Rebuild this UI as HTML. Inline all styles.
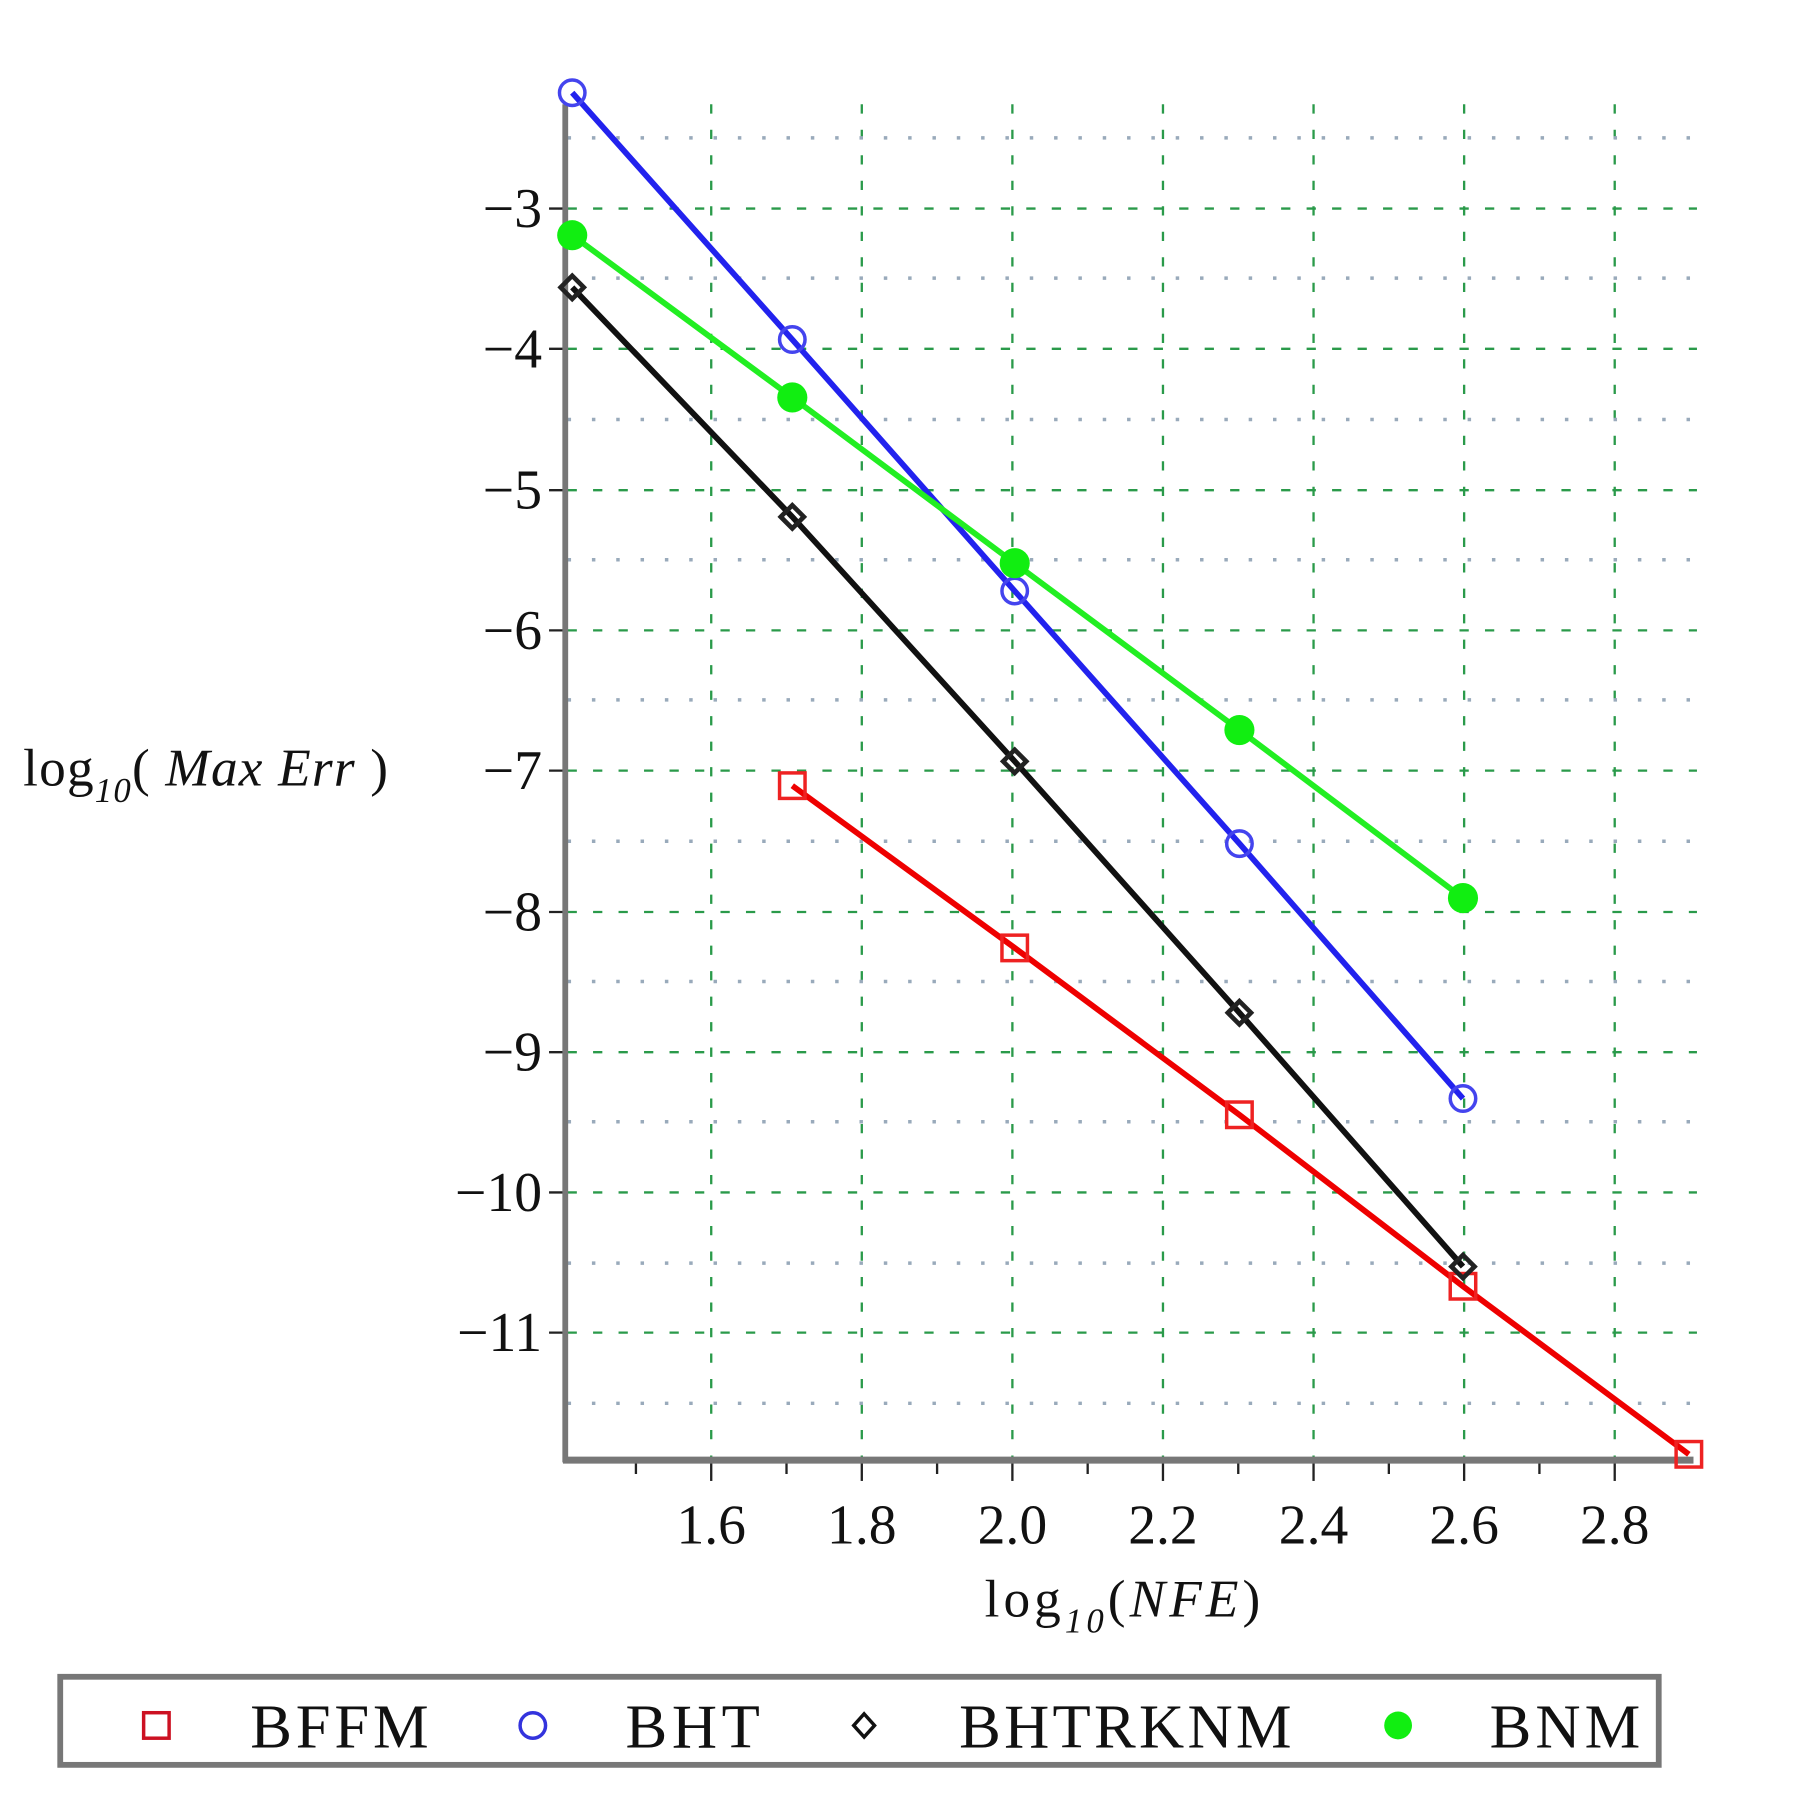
<!DOCTYPE html>
<html><head><meta charset="utf-8"><style>html,body{margin:0;padding:0;background:#fff}svg{display:block}</style></head><body>
<svg width="1807" height="1817" viewBox="0 0 1560 1568" preserveAspectRatio="none" xmlns="http://www.w3.org/2000/svg" font-family="Liberation Serif, serif">
<g stroke="#2a9a4a" stroke-width="2" stroke-dasharray="8,14">
<line x1="614" y1="90" x2="614" y2="1258"/><line x1="744" y1="90" x2="744" y2="1258"/><line x1="874" y1="90" x2="874" y2="1258"/><line x1="1004" y1="90" x2="1004" y2="1258"/><line x1="1134" y1="90" x2="1134" y2="1258"/><line x1="1264" y1="90" x2="1264" y2="1258"/><line x1="1394" y1="90" x2="1394" y2="1258"/>
<line x1="490" y1="180" x2="1465" y2="180"/><line x1="490" y1="301" x2="1465" y2="301"/><line x1="490" y1="423" x2="1465" y2="423"/><line x1="490" y1="544" x2="1465" y2="544"/><line x1="490" y1="665" x2="1465" y2="665"/><line x1="490" y1="787" x2="1465" y2="787"/><line x1="490" y1="908" x2="1465" y2="908"/><line x1="490" y1="1029" x2="1465" y2="1029"/><line x1="490" y1="1150" x2="1465" y2="1150"/>
</g>
<g stroke="#9ab" stroke-width="3" stroke-dasharray="3,18">
<line x1="490" y1="119" x2="1465" y2="119"/><line x1="490" y1="240" x2="1465" y2="240"/><line x1="490" y1="362" x2="1465" y2="362"/><line x1="490" y1="483" x2="1465" y2="483"/><line x1="490" y1="604" x2="1465" y2="604"/><line x1="490" y1="726" x2="1465" y2="726"/><line x1="490" y1="847" x2="1465" y2="847"/><line x1="490" y1="968" x2="1465" y2="968"/><line x1="490" y1="1090" x2="1465" y2="1090"/><line x1="490" y1="1211" x2="1465" y2="1211"/>
</g>
<g stroke="#222" stroke-width="2">
<line x1="614" y1="1260" x2="614" y2="1278"/><line x1="744" y1="1260" x2="744" y2="1278"/><line x1="874" y1="1260" x2="874" y2="1278"/><line x1="1004" y1="1260" x2="1004" y2="1278"/><line x1="1134" y1="1260" x2="1134" y2="1278"/><line x1="1264" y1="1260" x2="1264" y2="1278"/><line x1="1394" y1="1260" x2="1394" y2="1278"/>
<line x1="549" y1="1260" x2="549" y2="1272"/><line x1="679" y1="1260" x2="679" y2="1272"/><line x1="809" y1="1260" x2="809" y2="1272"/><line x1="939" y1="1260" x2="939" y2="1272"/><line x1="1069" y1="1260" x2="1069" y2="1272"/><line x1="1199" y1="1260" x2="1199" y2="1272"/><line x1="1329" y1="1260" x2="1329" y2="1272"/>
<line x1="474" y1="180" x2="490" y2="180"/><line x1="474" y1="301" x2="490" y2="301"/><line x1="474" y1="423" x2="490" y2="423"/><line x1="474" y1="544" x2="490" y2="544"/><line x1="474" y1="665" x2="490" y2="665"/><line x1="474" y1="787" x2="490" y2="787"/><line x1="474" y1="908" x2="490" y2="908"/><line x1="474" y1="1029" x2="490" y2="1029"/><line x1="474" y1="1150" x2="490" y2="1150"/>
</g>
<line x1="488" y1="90" x2="488" y2="1262" stroke="#777" stroke-width="5"/>
<line x1="486" y1="1260" x2="1462" y2="1260" stroke="#777" stroke-width="6"/>
<g font-size="48" text-anchor="end" fill="#111">
<text x="468" y="196">−3</text><text x="468" y="317">−4</text><text x="468" y="439">−5</text><text x="468" y="560">−6</text><text x="468" y="681">−7</text><text x="468" y="803">−8</text><text x="468" y="924">−9</text><text x="468" y="1045">−10</text><text x="468" y="1166">−11</text>
</g>
<g font-size="48" text-anchor="middle" fill="#111">
<text x="614" y="1332">1.6</text><text x="744" y="1332">1.8</text><text x="874" y="1332">2.0</text><text x="1004" y="1332">2.2</text><text x="1134" y="1332">2.4</text><text x="1264" y="1332">2.6</text><text x="1394" y="1332">2.8</text>
</g>
<text x="20" y="678" font-size="46" fill="#111" textLength="315">log<tspan font-size="30" dy="14" font-style="italic">10</tspan><tspan dy="-14">(</tspan><tspan font-style="italic"> Max Err</tspan> )</text>
<text x="850" y="1395" font-size="46" fill="#111" textLength="238">log<tspan font-size="30" dy="14" font-style="italic">10</tspan><tspan dy="-14">(</tspan><tspan font-style="italic">NFE</tspan>)</text>
<g fill="none" stroke-width="5">
<polyline stroke="#e00" points="684,678 876,818 1070,962 1263,1110 1458,1255"/>
<polyline stroke="#111" points="494,248 684,446 876,657 1070,874 1263,1093"/>
<polyline stroke="#22e" points="494,80 684,293 876,510 1070,728 1263,948"/>
<polyline stroke="#2e2" points="494,203 684,343 876,486 1070,630 1263,775"/>
</g>
<g fill="none" stroke="#e22" stroke-width="3">
<rect x="673" y="667" width="22" height="22"/><rect x="865" y="807" width="22" height="22"/><rect x="1059" y="951" width="22" height="22"/><rect x="1252" y="1099" width="22" height="22"/><rect x="1447" y="1244" width="22" height="22"/>
</g>
<g fill="none" stroke="#44e" stroke-width="3">
<circle cx="494" cy="80" r="11"/><circle cx="684" cy="293" r="11"/><circle cx="876" cy="510" r="11"/><circle cx="1070" cy="728" r="11"/><circle cx="1263" cy="948" r="11"/>
</g>
<g fill="none" stroke="#222" stroke-width="4">
<path d="M494,238 l10,10 l-10,10 l-10,-10z M684,436 l10,10 l-10,10 l-10,-10z M876,647 l10,10 l-10,10 l-10,-10z M1070,864 l10,10 l-10,10 l-10,-10z M1263,1083 l10,10 l-10,10 l-10,-10z"/>
</g>
<g fill="#1e1">
<circle cx="494" cy="203" r="13"/><circle cx="684" cy="343" r="13"/><circle cx="876" cy="486" r="13"/><circle cx="1070" cy="630" r="13"/><circle cx="1263" cy="775" r="13"/>
</g>
<rect x="52" y="1447" width="1380" height="76" fill="#fff" stroke="#777" stroke-width="5"/>
<rect x="124" y="1478" width="22" height="22" fill="none" stroke="#c12" stroke-width="3"/>
<circle cx="460" cy="1489" r="11" fill="none" stroke="#33d" stroke-width="3"/>
<path d="M746,1479 l9,10 l-9,10 l-9,-10z" fill="none" stroke="#111" stroke-width="3"/>
<circle cx="1207" cy="1489" r="12" fill="#1e1"/>
<g font-size="54" fill="#111">
<text x="216" y="1508" textLength="154">BFFM</text><text x="540" y="1508" textLength="116">BHT</text><text x="828" y="1508" textLength="287">BHTRKNM</text><text x="1286" y="1508" textLength="130">BNM</text>
</g>
</svg>
</body></html>
